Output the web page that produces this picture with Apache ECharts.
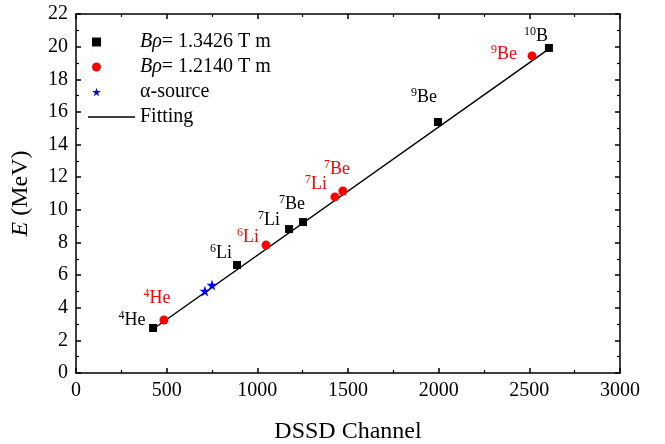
<!DOCTYPE html>
<html>
<head>
<meta charset="utf-8">
<script src="https://cdn.jsdelivr.net/npm/echarts@6/dist/echarts.min.js"></script>
<style>
  html, body { margin: 0; padding: 0; background: #fff; }
  #chart { width: 665px; height: 444px; }
</style>
</head>
<body>
<div id="chart"></div>
<script>
// B rho = 1.3426 T m (black squares)
const blackCh = [425, 888, 1175, 1252, 1996, 2608]
const blackE = [2.76, 6.62, 8.82, 9.25, 15.38, 19.92]
const blackMass = ['4', '6', '7', '7', '9', '10']
const blackElem = ['He', 'Li', 'Li', 'Be', 'Be', 'B']

// B rho = 1.2140 T m (red circles)
const redCh = [485, 1048, 1428, 1472, 2515]
const redE = [3.25, 7.84, 10.79, 11.15, 19.43]
const redMass = ['4', '6', '7', '7', '9']
const redElem = ['He', 'Li', 'Li', 'Be', 'Be']

// alpha source
const alphaCh = [711, 750]
const alphaE = [5.03, 5.39]

// fitting line end points
const fitCh = [420, 2620]
const fitE = [2.65, 19.95]

// label offsets (px) from the marker centre
const blackOffsets = [[-21, -8], [-16, -12], [-20, -9], [-11, -18], [-14, -25], [-13, -12]]
const redOffsets = [[-7, -22], [-18, -8], [-19, -13], [-6, -22], [-28, -2]]

const FONT = 'Liberation Serif'
const STAR = 'path://M50,0 L61,35 L98,35 L68,57 L79,91 L50,70 L21,91 L32,57 L2,35 L39,35 Z'
const nameB1 = 'Bρ = 1.3426 T m'
const nameB2 = 'Bρ = 1.2140 T m'
const nameA = 'α-source'
const nameF = 'Fitting'

const labelRich = (color) => ({
  s: { fontFamily: FONT, fontSize: 12, color: color, verticalAlign: 'top', lineHeight: 12 },
  t: { fontFamily: FONT, fontSize: 18, color: color, lineHeight: 20 }
})

function pts (xs, ys, mass, elem, offs, color) {
  return xs.map((x, i) => {
    let d = { value: [x, ys[i]] }
    if (mass) {
      d.label = {
        show: true,
        position: 'inside',
        offset: offs[i],
        formatter: '{s|' + mass[i] + '}{t|' + elem[i] + '}',
        rich: labelRich(color)
      }
    }
    return d
  })
}

let myChart = echarts.init(document.getElementById('chart'))

const axisCommon = {
  axisLine: { onZero: false, lineStyle: { color: '#000', width: 1.5 } },
  axisTick: { inside: true, length: 5, lineStyle: { color: '#000', width: 1.5 } },
  minorTick: { show: true, splitNumber: 2, length: 3, lineStyle: { color: '#000', width: 1.2 } },
  splitLine: { show: false }
}

const serif20 = { fontFamily: FONT, fontSize: 20, color: '#000' }
const serif24 = { fontFamily: FONT, fontSize: 24, color: '#000' }

const legendRich = {
  sp: { width: 34 },
  i: Object.assign({ fontStyle: 'italic' }, serif20),
  n: serif20
}

const tickLabel = {
  fontFamily: FONT,
  fontSize: 20,
  color: '#000',
  margin: 8,
  formatter: (v) => '{n|' + v + '}',
  rich: { n: serif20 }
}

myChart.setOption({
  backgroundColor: '#fff',
  animation: false,
  textStyle: { fontFamily: FONT },
  grid: { left: 76, right: 45, top: 14, bottom: 71, containLabel: false, outerBoundsMode: 'none' },
  legend: [
    {
      orient: 'vertical',
      left: 92,
      top: 32,
      padding: 0,
      itemWidth: 9,
      itemHeight: 9,
      itemGap: 5,
      data: [nameB1, nameB2, nameA],
      formatter: (name) => {
        if (name === nameB1) return '{sp|}{i|Bρ}{n|= 1.3426 T m}'
        if (name === nameB2) return '{sp|}{i|Bρ}{n|= 1.2140 T m}'
        return '{sp|}{n|' + name + '}'
      },
      textStyle: { fontFamily: FONT, fontSize: 20, lineHeight: 20, color: '#000', rich: legendRich }
    },
    {
      orient: 'vertical',
      left: 88,
      top: 107,
      padding: 0,
      itemWidth: 47,
      itemHeight: 1.5,
      icon: 'rect',
      symbolKeepAspect: false,
      data: [nameF],
      formatter: (name) => '{n|' + name + '}',
      textStyle: { fontFamily: FONT, fontSize: 20, lineHeight: 20, color: '#000', rich: { n: serif20 } }
    }
  ],
  xAxis: [
    Object.assign({
      type: 'value',
      min: 0,
      max: 3000,
      interval: 500,
      name: '{n|DSSD Channel}',
      nameLocation: 'middle',
      nameGap: 47,
      nameTextStyle: { fontFamily: FONT, fontSize: 24, color: '#000', rich: { n: serif24 } },
      axisLabel: tickLabel
    }, axisCommon),
    Object.assign({
      type: 'value',
      position: 'top',
      min: 0,
      max: 3000,
      interval: 500,
      axisLabel: { show: false }
    }, axisCommon)
  ],
  yAxis: [
    Object.assign({
      type: 'value',
      min: 0,
      max: 22,
      interval: 2,
      name: '{i|E} {n|(MeV)}',
      nameLocation: 'middle',
      nameRotate: 90,
      nameGap: 43,
      nameTextStyle: {
        fontFamily: FONT,
        fontSize: 24,
        color: '#000',
        rich: {
          i: Object.assign({ fontStyle: 'italic' }, serif24),
          n: serif24
        }
      },
      axisLabel: tickLabel
    }, axisCommon),
    Object.assign({
      type: 'value',
      position: 'right',
      min: 0,
      max: 22,
      interval: 2,
      axisLabel: { show: false }
    }, axisCommon)
  ],
  series: [
    {
      name: nameF,
      type: 'line',
      symbol: 'none',
      data: fitCh.map((x, i) => [x, fitE[i]]),
      lineStyle: { color: '#000', width: 1.5 },
      itemStyle: { color: '#000' },
      z: 1
    },
    {
      name: nameB1,
      type: 'scatter',
      symbol: 'rect',
      symbolSize: 8,
      itemStyle: { color: '#000', opacity: 1 },
      data: pts(blackCh, blackE, blackMass, blackElem, blackOffsets, '#000'),
      z: 3
    },
    {
      name: nameB2,
      type: 'scatter',
      symbol: 'circle',
      symbolSize: 9,
      itemStyle: { color: '#ff0000', opacity: 1 },
      data: pts(redCh, redE, redMass, redElem, redOffsets, '#ff0000'),
      z: 3
    },
    {
      name: nameA,
      type: 'scatter',
      symbol: STAR,
      symbolSize: 11,
      itemStyle: { color: '#0000ff', opacity: 1 },
      data: pts(alphaCh, alphaE),
      z: 3
    }
  ]
})
</script>
</body>
</html>
